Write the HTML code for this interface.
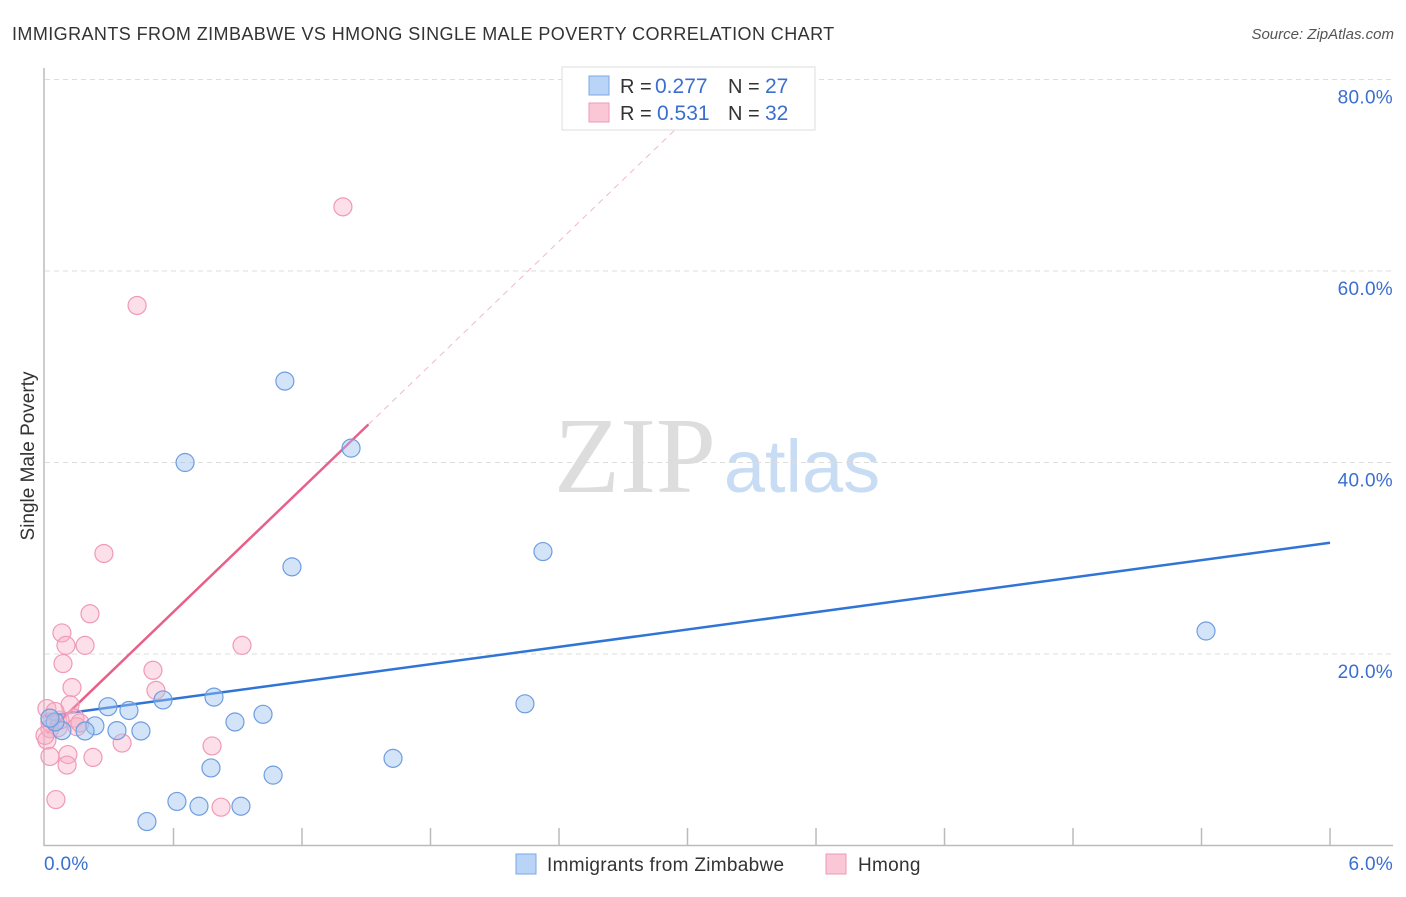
<!DOCTYPE html>
<html><head><meta charset="utf-8"><style>
body{margin:0;background:#fff;font-family:"Liberation Sans",sans-serif;}
svg text{font-family:"Liberation Sans",sans-serif;}
</style></head><body>
<svg id="c" width="1406" height="892" xmlns="http://www.w3.org/2000/svg">
<text x="12" y="40" font-size="18" fill="#333" letter-spacing="0.42">IMMIGRANTS FROM ZIMBABWE VS HMONG SINGLE MALE POVERTY CORRELATION CHART</text>
<text x="1394" y="39" font-size="15" fill="#555" text-anchor="end" font-style="italic">Source: ZipAtlas.com</text>
<text transform="translate(34,456) rotate(-90)" font-size="19" fill="#333" text-anchor="middle">Single Male Poverty</text>
<g>
<text x="635" y="492" font-size="108" fill="#ddd" text-anchor="middle" style="font-family:'Liberation Serif',serif">ZIP</text>
<text x="802" y="492" font-size="74" fill="#c8dcf3" text-anchor="middle">atlas</text>
</g>
<g id="grid"></g><g id="axes"></g><g id="lines"></g><g id="pts"></g>
<g>
<rect x="562" y="67" width="253" height="63" fill="#fff" stroke="#ddd"/>
<rect x="589" y="76" width="20" height="19" fill="#b9d4f7" stroke="#7aa8e6"/>
<rect x="589" y="103" width="20" height="19" fill="#fac7d6" stroke="#ee9ab5"/>
<text x="620" y="93" font-size="20" fill="#333">R =</text>
<text x="655" y="93" font-size="21" fill="#3a6fd0">0.277</text>
<text x="728" y="93" font-size="20" fill="#333">N =</text>
<text x="765" y="93" font-size="21" fill="#3a6fd0">27</text>
<text x="620" y="120" font-size="20" fill="#333">R =</text>
<text x="657" y="120" font-size="21" fill="#3a6fd0">0.531</text>
<text x="728" y="120" font-size="20" fill="#333">N =</text>
<text x="765" y="120" font-size="21" fill="#3a6fd0">32</text>
</g>
<g>
<rect x="516" y="854" width="20" height="20" fill="#b9d4f7" stroke="#7aa8e6"/>
<text x="547" y="871" font-size="19" fill="#333" letter-spacing="0.3">Immigrants from Zimbabwe</text>
<rect x="826" y="854" width="20" height="20" fill="#fac7d6" stroke="#ee9ab5"/>
<text x="858" y="871" font-size="19" fill="#333" letter-spacing="0.3">Hmong</text>
</g>
</svg>
<script>
const xTicks=[0,6];
const yTicks=[20,40,60,80];
const blueX=[1.12,0.654,1.429,2.325,1.153,5.421,2.241,0.551,0.789,0.294,0.392,1.018,0.887,0.233,0.336,0.448,0.187,0.079,0.047,0.023,1.625,0.775,1.065,0.616,0.719,0.915,0.476];
const blueY=[48.5,40.0,41.5,30.7,29.1,22.4,14.8,15.2,15.5,14.5,14.1,13.7,12.9,12.5,12.0,11.96,11.96,12.0,12.9,13.3,9.1,8.1,7.35,4.6,4.1,4.1,2.5];
const pinkX=[1.391,0.430,0.275,0.210,0.079,0.187,0.098,0.920,0.084,0.504,0.126,0.518,0.117,0.009,0.140,0.023,0.149,0.061,0.009,0.360,0.780,0.107,0.023,0.224,0.103,0.051,0.822,0.023,0.070,0.0,0.047,0.163];
const pinkY=[66.7,56.4,30.5,24.2,22.2,20.9,20.9,20.9,19.0,18.3,16.5,16.2,14.7,14.3,13.3,12.9,12.4,12.3,11.0,10.7,10.4,9.5,9.3,9.2,8.4,4.8,4.0,12.2,13.1,11.5,14.0,12.8];
const blueFit=[13.5,3.02]; // intercept, slope
const pinkFit=[11.5,21.5];
const X=v=>45+v*214.17, Y=v=>845.5-v*9.575;
const NS='http://www.w3.org/2000/svg';
function mk(p,t,a){const e=document.createElementNS(NS,t);for(const k in a)e.setAttribute(k,a[k]);document.getElementById(p).appendChild(e);return e;}
yTicks.forEach(t=>{
 const g=mk('grid','line',{x1:45,x2:1393,y1:Y(t),y2:Y(t),stroke:'#ddd','stroke-dasharray':'5,4'});
 
 
 const l=mk('grid','text',{x:1393,y:Y(t)+24,'font-size':19,fill:'#3a6fd0','text-anchor':'end','letter-spacing':0.3});
 l.textContent=t.toFixed(1)+'%';
 
 
});
const ax=mk('axes','line',{x1:44,x2:44,y1:68,y2:846,stroke:'#bbb','stroke-width':1.5});


const xa=mk('axes','line',{x1:44,x2:1393,y1:845.5,y2:845.5,stroke:'#bbb','stroke-width':1.5});


for(let i=1;i<=10;i++){const xv=i*0.6;const t=mk('axes','line',{x1:X(xv),x2:X(xv),y1:828,y2:845,stroke:'#bbb','stroke-width':1.5});
 
 }
xTicks.forEach((t,i)=>{const l=mk('axes','text',{x:i?X(t)+63:X(t)-1,y:870,'font-size':19,fill:'#3a6fd0','text-anchor':i?'end':'start','letter-spacing':0.3});
 l.textContent=t.toFixed(1)+'%';
 
 });
const bl=mk('lines','line',{x1:X(0),y1:Y(blueFit[0]),x2:X(6),y2:Y(blueFit[0]+6*blueFit[1]),stroke:'#2f74d6','stroke-width':2.5});


const xe=(80-pinkFit[0])/pinkFit[1];
const pd=mk('lines','line',{x1:X(1.51),y1:Y(pinkFit[0]+1.51*pinkFit[1]),x2:X(xe),y2:Y(80),stroke:'#f0b8c8','stroke-width':1,'stroke-dasharray':'6,5'});


const pl=mk('lines','line',{x1:X(0.01),y1:Y(pinkFit[0]+0.01*pinkFit[1]),x2:X(1.51),y2:Y(pinkFit[0]+1.51*pinkFit[1]),stroke:'#e8608a','stroke-width':2.5});


pinkX.forEach((x,i)=>{const c=mk('pts','circle',{cx:X(x),cy:Y(pinkY[i]),r:9,fill:'rgba(247,175,198,0.4)',stroke:'#ef9ab6','stroke-width':1.2});
 
 });
blueX.forEach((x,i)=>{const c=mk('pts','circle',{cx:X(x),cy:Y(blueY[i]),r:9,fill:'rgba(160,196,240,0.45)',stroke:'#6d9de0','stroke-width':1.2});
 
 });
</script>
</body></html>
